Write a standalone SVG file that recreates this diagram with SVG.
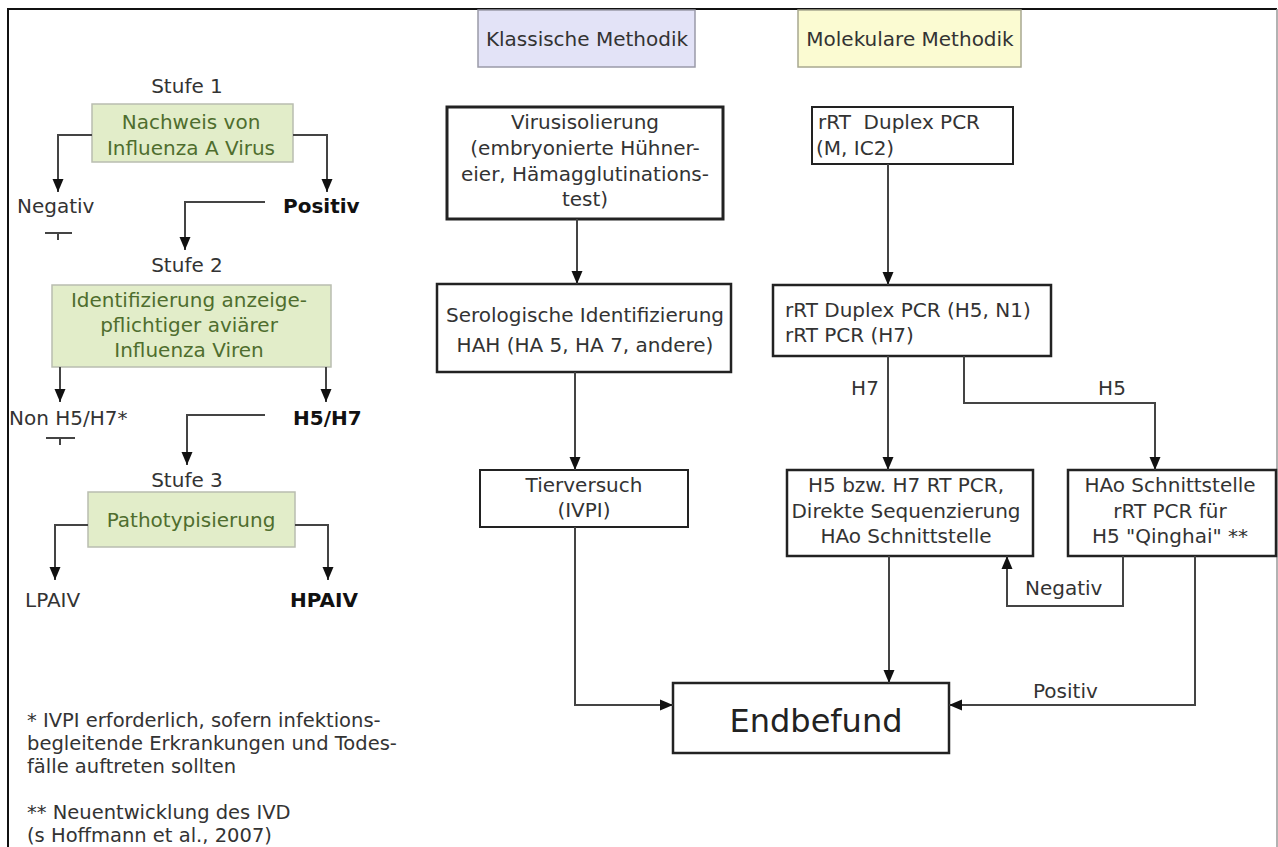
<svg xmlns="http://www.w3.org/2000/svg" width="1278" height="847" viewBox="0 0 1278 847">
<style>
text{font-family:"DejaVu Sans","Noto Sans",sans-serif;font-size:20px;fill:#333}
.g{fill:#4f6d2e}
.b{font-weight:bold;fill:#111}
.m{text-anchor:middle}
.fn{font-size:19.5px}
.green{fill:#e2edc9;stroke:#b9bdb0;stroke-width:1.5}
.box{fill:#fff;stroke:#222;stroke-width:2.5}
.thick{stroke-width:3}
.thin{stroke-width:2}
.c{fill:none;stroke:#444;stroke-width:2}
</style>
<defs>
<marker id="ah" markerUnits="userSpaceOnUse" viewBox="0 0 13 12" refX="13" refY="6" markerWidth="13" markerHeight="12" orient="auto">
<path d="M0,0.5 L13,6 L0,11.5 z" fill="#111"/>
</marker>
</defs>
<rect width="1278" height="847" fill="#fff"/>
<path d="M8,847 V9 H1277" fill="none" stroke="#111" stroke-width="2"/>
<path d="M1277,9 V847" fill="none" stroke="#999" stroke-width="1.5"/>

<g id="stufe1">
<text class="m" x="187" y="93">Stufe 1</text>
<rect class="green" x="92" y="104" width="201" height="58"/>
<text class="m g" x="191" y="129">Nachweis von</text>
<text class="m g" x="191" y="155">Influenza A Virus</text>
</g>
<g id="neg1">
<text x="17" y="213">Negativ</text>
<path d="M45,233 H72 M58,233 V240" stroke="#444" stroke-width="2" fill="none"/>
</g>
<g id="pos1"><text class="b" x="283" y="213">Positiv</text></g>

<g id="stufe2">
<text class="m" x="187" y="272">Stufe 2</text>
<rect class="green" x="52" y="285" width="279" height="82"/>
<text class="m g" x="189" y="307">Identifizierung anzeige-</text>
<text class="m g" x="189" y="332">pflichtiger aviärer</text>
<text class="m g" x="189" y="357">Influenza Viren</text>
</g>
<g id="non">
<text x="9" y="425">Non H5/H7*</text>
<path d="M46,438 H75 M60,438 V445" stroke="#444" stroke-width="2" fill="none"/>
</g>
<g id="h5h7"><text class="b" x="293" y="425">H5/H7</text></g>

<g id="stufe3">
<text class="m" x="187" y="487">Stufe 3</text>
<rect class="green" x="88" y="492" width="207" height="55"/>
<text class="m g" x="191" y="527">Pathotypisierung</text>
</g>
<g id="lpaiv"><text x="25" y="607">LPAIV</text></g>
<g id="hpaiv"><text class="b" x="290" y="607">HPAIV</text></g>

<g id="footnotes">
<text class="fn" x="27" y="727">* IVPI erforderlich, sofern infektions-</text>
<text class="fn" x="27" y="750">begleitende Erkrankungen und Todes-</text>
<text class="fn" x="27" y="773">fälle auftreten sollten</text>
<text class="fn" x="27" y="819">** Neuentwicklung des IVD</text>
<text class="fn" x="27" y="842">(s Hoffmann et al., 2007)</text>
</g>

<g id="klassisch">
<rect x="478" y="10" width="217" height="57" fill="#e3e3f7" stroke="#9a9aa8" stroke-width="1.5"/>
<text class="m" x="587" y="46">Klassische Methodik</text>
</g>
<g id="molekular">
<rect x="798" y="10" width="223" height="57" fill="#fbfbd2" stroke="#a8a890" stroke-width="1.5"/>
<text class="m" x="910" y="46">Molekulare Methodik</text>
</g>

<g id="virus">
<rect class="box thick" x="447" y="107" width="276" height="112"/>
<text class="m" x="585" y="129">Virusisolierung</text>
<text class="m" x="585" y="155">(embryonierte Hühner-</text>
<text class="m" x="585" y="181">eier, Hämagglutinations-</text>
<text class="m" x="585" y="206">test)</text>
</g>
<g id="sero">
<rect class="box" x="437" y="284" width="294" height="88"/>
<text class="m" x="585" y="322">Serologische Identifizierung</text>
<text class="m" x="585" y="352">HAH (HA 5, HA 7, andere)</text>
</g>
<g id="tier">
<rect class="box thin" x="480" y="470" width="208" height="57"/>
<text class="m" x="584" y="492">Tierversuch</text>
<text class="m" x="584" y="517">(IVPI)</text>
</g>

<g id="rrt1">
<rect class="box thin" x="812" y="107" width="201" height="57"/>
<text x="818" y="129" style="white-space:pre">rRT  Duplex PCR</text>
<text x="816" y="155">(M, IC2)</text>
</g>
<g id="rrt2">
<rect class="box" x="773" y="285" width="278" height="71"/>
<text x="785" y="317">rRT Duplex PCR (H5, N1)</text>
<text x="785" y="342">rRT PCR (H7)</text>
</g>
<g id="h5bzw">
<rect class="box" x="787" y="470" width="246" height="86"/>
<text class="m" x="906" y="492">H5 bzw. H7 RT PCR,</text>
<text class="m" x="906" y="518">Direkte Sequenzierung</text>
<text class="m" x="906" y="543">HAo Schnittstelle</text>
</g>
<g id="hao">
<rect class="box" x="1068" y="470" width="208" height="86" fill="#f9dada"/>
<text class="m" x="1170" y="492">HAo Schnittstelle</text>
<text class="m" x="1170" y="518">rRT PCR für</text>
<text class="m" x="1170" y="543">H5 "Qinghai" **</text>
</g>
<g id="end">
<rect class="box" x="673" y="683" width="276" height="70"/>
<text class="m" x="816" y="732" style="font-size:32px;fill:#222">Endbefund</text>
</g>

<g id="connectors">
<path class="c" d="M92,135 H58 V192" marker-end="url(#ah)"/>
<path class="c" d="M293,135 H327 V192" marker-end="url(#ah)"/>
<path class="c" d="M265,202 H185 V250" marker-end="url(#ah)"/>
<path class="c" d="M60,367 V402" marker-end="url(#ah)"/>
<path class="c" d="M326,367 V402" marker-end="url(#ah)"/>
<path class="c" d="M265,415 H187 V465" marker-end="url(#ah)"/>
<path class="c" d="M88,525 H55 V580" marker-end="url(#ah)"/>
<path class="c" d="M295,525 H328 V580" marker-end="url(#ah)"/>

<path class="c" d="M577,219 V284" marker-end="url(#ah)"/>
<path class="c" d="M575,372 V470" marker-end="url(#ah)"/>
<path class="c" d="M575,527 V705 H673" marker-end="url(#ah)"/>
<path class="c" d="M888,164 V285" marker-end="url(#ah)"/>
<path class="c" d="M888,356 V470" marker-end="url(#ah)"/>
<path class="c" d="M964,356 V403 H1155 V470" marker-end="url(#ah)"/>
<path class="c" d="M889,556 V683" marker-end="url(#ah)"/>
<path class="c" d="M1123,556 V606 H1007 V556" marker-end="url(#ah)"/>
<path class="c" d="M1195,556 V705 H949" marker-end="url(#ah)"/>
<text class="m" x="865" y="395">H7</text>
<text class="m" x="1112" y="395">H5</text>
<text x="1025" y="595">Negativ</text>
<text x="1033" y="698">Positiv</text>
</g>
</svg>
